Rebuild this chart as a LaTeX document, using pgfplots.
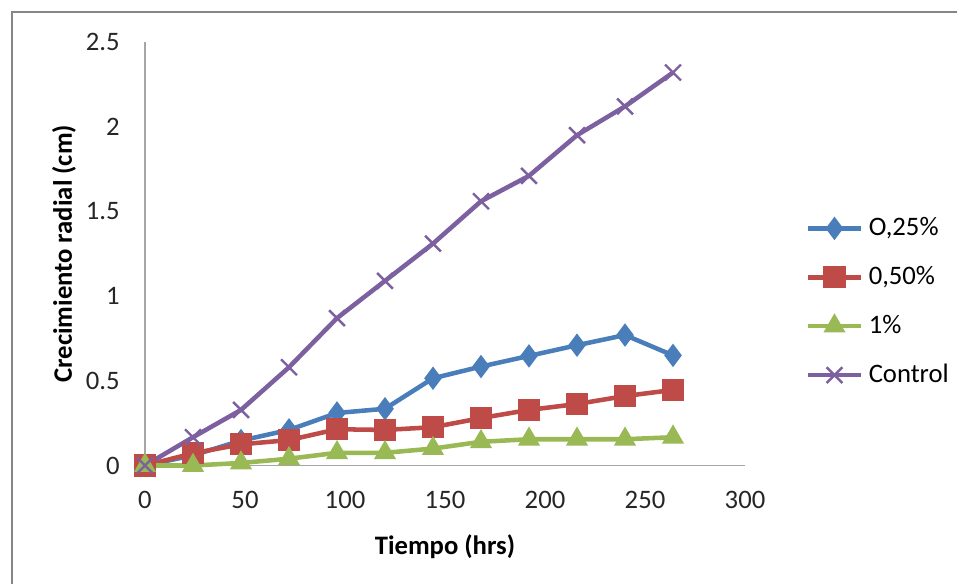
\documentclass[border=0pt]{standalone}
\usepackage{pgfplots}
\pgfplotsset{compat=1.18}
\usepackage{fontspec}
\setmainfont{Carlito}
\definecolor{sblue}{HTML}{4A7EBB}
\definecolor{sred}{HTML}{BE4B48}
\definecolor{sgreen}{HTML}{98B954}
\definecolor{spurple}{HTML}{7D60A0}
\definecolor{axgray}{HTML}{A6A6A6}
\definecolor{frgray}{HTML}{868686}
\begin{document}
\begin{tikzpicture}
\useasboundingbox (0pt,0pt) rectangle (358.875pt,-219pt);
\draw[frgray, line width=0.8pt] (4.6pt,-219pt) -- (4.6pt,-4.6pt) -- (358.875pt,-4.6pt);
\begin{axis}[
  at={(54.375pt,-174.56pt)}, anchor=origin,
  scale only axis, width=225pt, height=158.8pt,
  xmin=0, xmax=300, ymin=0, ymax=2.5,
  axis x line*=bottom, axis y line*=left,
  axis line style={-, axgray, line width=0.6pt},
  xtick={0,50,...,300}, ytick={0,0.5,...,2.5},
  major tick length=0pt,
  /pgf/number format/assume math mode=true,
  /pgf/number format/.cd, use period, 1000 sep={}, /pgfplots/.cd,
  ticklabel style={font=\fontsize{10}{12}\selectfont, text=black!85},
  xticklabel style={yshift=-6pt},
  yticklabel style={xshift=-6pt},
  every axis y label/.style={at={(axis description cs:-0.135,0.5)}, rotate=90, anchor=center},
  every axis x label/.style={at={(axis description cs:0.5,-0.191)}, anchor=center},
  ylabel={\bfseries Crecimiento radial (cm)},
  xlabel={\bfseries Tiempo (hrs)},
  label style={font=\fontsize{10}{12}\selectfont},
  clip=false,
  legend style={at={(rel axis cs:1.1,0.6)}, anchor=north west, draw=none, fill=none,
    font=\fontsize{10}{12}\selectfont, row sep=6pt, inner sep=0pt,
    /tikz/every even column/.append style={column sep=1pt}},
  legend cell align=left,
  legend image code/.code={\draw[#1] (0pt,0pt) -- (20pt,0pt); \draw[#1, mark repeat=2, mark phase=2] plot coordinates {(0pt,0pt) (10pt,0pt) (20pt,0pt)};},
]
\addplot[sblue, line width=1.7pt, mark=diamond*, mark size=4pt, mark options={solid, line width=0.5pt}] coordinates {
(0,0) (24,0.06) (48,0.147) (72,0.21) (96,0.31) (120,0.335) (144,0.515) (168,0.584) (192,0.647) (216,0.71) (240,0.77) (264,0.65)};
\addlegendentry{O,25\%}
\addplot[sred, line width=1.7pt, mark=square*, mark size=3.9pt, mark options={solid, line width=0.5pt}] coordinates {
(0,0) (24,0.072) (48,0.125) (72,0.15) (96,0.214) (120,0.21) (144,0.226) (168,0.28) (192,0.328) (216,0.363) (240,0.41) (264,0.446)};
\addlegendentry{0,50\%}
\addplot[sgreen, line width=1.7pt, mark=triangle*, mark size=4.3pt, mark options={solid, line width=0.5pt}] coordinates {
(0,0) (24,0.0) (48,0.015) (72,0.04) (96,0.075) (120,0.075) (144,0.10) (168,0.14) (192,0.155) (216,0.155) (240,0.155) (264,0.167)};
\addlegendentry{1\%}
\addplot[spurple, line width=1.7pt, mark=x, mark size=4.2pt, mark options={solid, line width=0.9pt}] coordinates {
(0,0) (24,0.167) (48,0.328) (72,0.58) (96,0.87) (120,1.09) (144,1.31) (168,1.56) (192,1.71) (216,1.95) (240,2.12) (264,2.32)};
\addlegendentry{Control}
\end{axis}
\end{tikzpicture}
\end{document}
